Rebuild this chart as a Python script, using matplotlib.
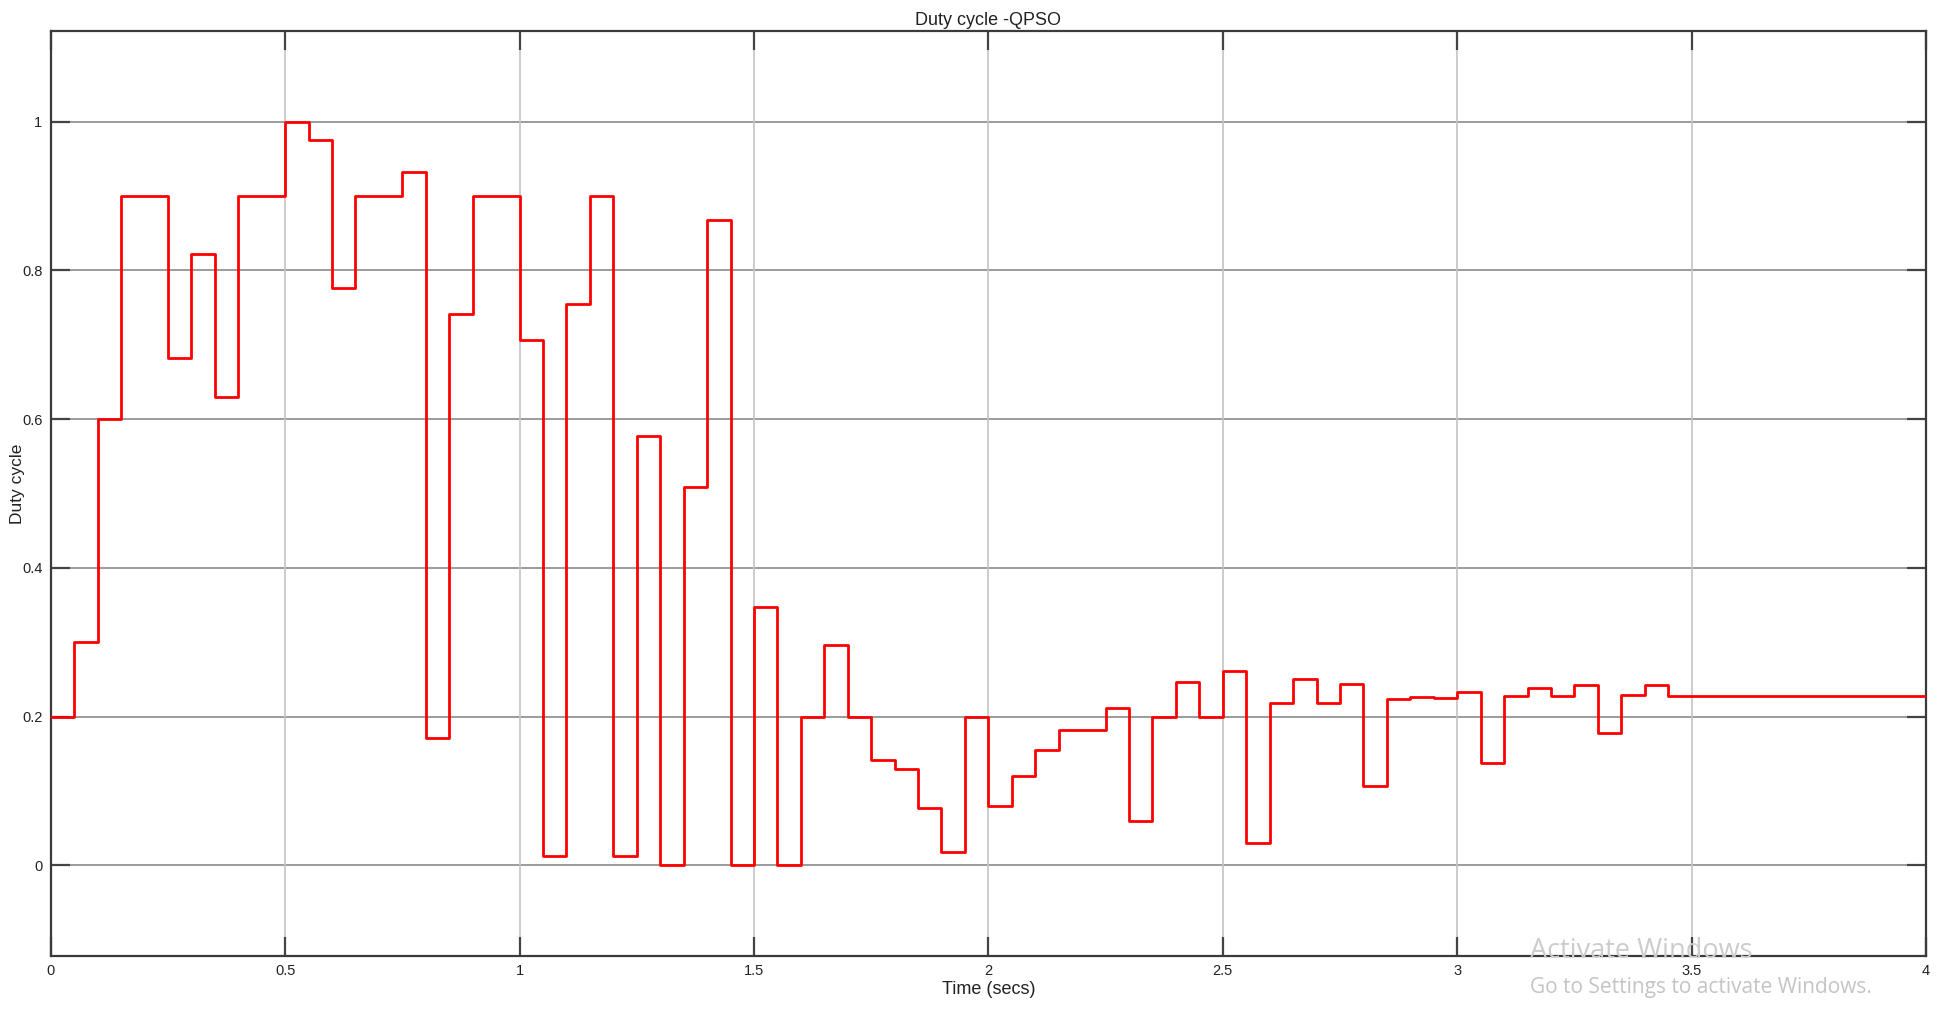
import matplotlib
matplotlib.use("Agg")
import matplotlib.pyplot as plt
import numpy as np

# ---- data ----
step_times = [0.00, 0.05, 0.10, 0.15, 0.25, 0.30, 0.35, 0.40, 0.50, 0.55,
              0.60, 0.65, 0.75, 0.80, 0.85, 0.90, 1.00, 1.05, 1.10, 1.15,
              1.20, 1.25, 1.30, 1.35, 1.40, 1.45, 1.50, 1.55, 1.60, 1.65,
              1.70, 1.75, 1.80, 1.85, 1.90, 1.95, 2.00, 2.05, 2.10, 2.15,
              2.25, 2.30, 2.35, 2.40, 2.45, 2.50, 2.55, 2.60, 2.65, 2.70,
              2.75, 2.80, 2.85, 2.90, 2.95, 3.00, 3.05, 3.10, 3.15, 3.20,
              3.25, 3.30, 3.35, 3.40, 3.45]
duty_values = [0.200, 0.300, 0.600, 0.900, 0.682, 0.822, 0.630, 0.900, 1.000, 0.975,
               0.776, 0.900, 0.932, 0.171, 0.741, 0.900, 0.706, 0.013, 0.755, 0.900,
               0.013, 0.577, 0.000, 0.509, 0.868, 0.000, 0.347, 0.000, 0.200, 0.296,
               0.200, 0.142, 0.129, 0.077, 0.018, 0.200, 0.080, 0.120, 0.155, 0.182,
               0.211, 0.059, 0.200, 0.247, 0.200, 0.261, 0.030, 0.218, 0.250, 0.218,
               0.244, 0.107, 0.224, 0.226, 0.225, 0.233, 0.137, 0.228, 0.239, 0.228,
               0.242, 0.178, 0.229, 0.242, 0.228]
t_end = 4.0

x_ticks = [0, 0.5, 1, 1.5, 2, 2.5, 3, 3.5, 4]
x_tick_labels = ["0", "0.5", "1", "1.5", "2", "2.5", "3", "3.5", "4"]
y_ticks = [0, 0.2, 0.4, 0.6, 0.8, 1.0]
y_tick_labels = ["0", "0.2", "0.4", "0.6", "0.8", "1"]

title = "Duty cycle -QPSO"
x_label = "Time (secs)"
y_label = "Duty cycle"

# ---- figure ----
narrow = ["Liberation Sans Narrow", "Liberation Sans", "DejaVu Sans"]
plt.rcParams["font.family"] = ["Liberation Sans", "DejaVu Sans"]

fig = plt.figure(figsize=(19.38, 10.16), dpi=100)
ax = fig.add_axes([0.0262, 0.059, 0.9676, 0.9105])

ts = list(step_times) + [t_end]
vs = list(duty_values) + [duty_values[-1]]
ax.step(ts, vs, where="post", color="#ff0000", lw=2.0, zorder=3)

ax.set_xlim(0, 4)
ax.set_ylim(-0.122, 1.122)

# grid: horizontal darker, vertical lighter
for y in y_ticks:
    ax.axhline(y, color="#8a8a8a", lw=1.2, zorder=1)
for x in x_ticks[1:-1]:
    ax.axvline(x, color="#c4c4c4", lw=1.2, zorder=1)

ax.set_xticks(x_ticks)
ax.set_xticklabels(x_tick_labels, family=narrow, fontsize=10.5, color="#222222")
ax.set_yticks(y_ticks)
ax.set_yticklabels(y_tick_labels, family=narrow, fontsize=10.5, color="#222222")
ax.tick_params(axis="both", direction="in", length=14, width=1.6, color="#444444",
               top=True, right=True, pad=6)

for sp in ax.spines.values():
    sp.set_color("#3a3a3a")
    sp.set_linewidth(1.6)

ax.set_title(title, family=narrow, fontsize=13, color="#222222", pad=4)
ax.set_xlabel(x_label, family=narrow, fontsize=13, color="#222222", labelpad=2)
ax.set_ylabel(y_label, fontsize=12.5, color="#222222")
ax.yaxis.set_label_coords(-0.0135, 0.51)

# screenshot watermark
fig.text(0.7895, 1 - 951 / 1016, "Activate Windows", family=["Open Sans", "DejaVu Sans"],
         fontsize=19.5, color="#cccccc", ha="left", va="center", zorder=10)
fig.text(0.7895, 1 - 988 / 1016, "Go to Settings to activate Windows.",
         family=["Open Sans", "DejaVu Sans"], fontsize=15, color="#c4c4c4",
         ha="left", va="center", zorder=10)

fig.savefig("out.png", dpi=100, facecolor="white")
